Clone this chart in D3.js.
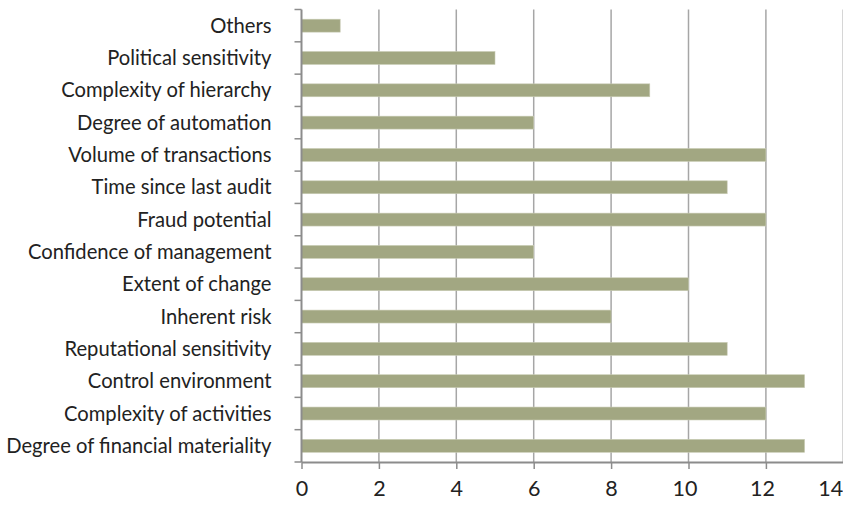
<!DOCTYPE html>
<html>
<head>
<meta charset="utf-8">
<script src="https://cdn.jsdelivr.net/npm/d3@7"></script>
<style>
  body { margin: 0; background: #fff; }
  svg text { font-family: "Lato", "Open Sans", sans-serif; fill: #222; }
</style>
</head>
<body>
<script>
// categories top to bottom
const categories = [
  "Others",
  "Political sensitivity",
  "Complexity of hierarchy",
  "Degree of automation",
  "Volume of transactions",
  "Time since last audit",
  "Fraud potential",
  "Confidence of management",
  "Extent of change",
  "Inherent risk",
  "Reputational sensitivity",
  "Control environment",
  "Complexity of activities",
  "Degree of financial materiality"
];
const counts = [1, 5, 9, 6, 12, 11, 12, 6, 10, 8, 11, 13, 12, 13];
const xTicks = [0, 2, 4, 6, 8, 10, 12, 14];

const width = 843, height = 506;
const margin = { top: 9.5, right: 0, bottom: 44, left: 301.5 };

const svg = d3.select("body").append("svg")
  .attr("width", width)
  .attr("height", height);

const x = d3.scaleLinear()
  .domain([0, 14])
  .range([margin.left, margin.left + 14 * 38.7]);

const y = d3.scaleBand()
  .domain(categories)
  .range([margin.top, height - margin.bottom])
  .paddingInner(0.6)
  .paddingOuter(0.3);

const yStep = (height - margin.bottom - margin.top) / categories.length;

// gridlines
svg.append("g")
  .selectAll("line")
  .data(xTicks.filter(d => d > 0))
  .join("line")
  .attr("x1", d => x(d)).attr("x2", d => x(d))
  .attr("y1", margin.top).attr("y2", height - margin.bottom)
  .attr("stroke", "#a6a6a6")
  .attr("stroke-width", 1.5);

// bars
svg.append("g")
  .selectAll("rect")
  .data(categories)
  .join("rect")
  .attr("x", x(0))
  .attr("y", d => y(d))
  .attr("width", (d, i) => x(counts[i]) - x(0))
  .attr("height", y.bandwidth())
  .attr("fill", "#a2a782")
  .attr("stroke", "#c9ccb5")
  .attr("stroke-width", 0.6);

// x axis
const xAxis = svg.append("g")
  .attr("transform", `translate(0,${height - margin.bottom})`)
  .call(d3.axisBottom(x).tickValues(xTicks).tickSize(7).tickPadding(12).tickSizeOuter(0));
xAxis.select(".domain").attr("stroke", "#8c8c8c").attr("stroke-width", 2);
xAxis.selectAll(".tick line").attr("stroke", "#8c8c8c").attr("stroke-width", 1.5);
xAxis.selectAll("text")
  .attr("font-size", 21.5)
  .attr("fill", "#222")
  // two-digit labels sit a little left, the last one is pulled inside the frame
  .attr("dx", d => d >= 14 ? -13 : d >= 10 ? -4 : 0);

// y axis with ticks at band boundaries
const yAxis = svg.append("g");
yAxis.append("line")
  .attr("x1", x(0)).attr("x2", x(0))
  .attr("y1", margin.top).attr("y2", height - margin.bottom)
  .attr("stroke", "#8c8c8c").attr("stroke-width", 2);
yAxis.selectAll(".bt")
  .data(d3.range(categories.length + 1))
  .join("line")
  .attr("class", "bt")
  .attr("x1", x(0) - 7).attr("x2", x(0))
  .attr("y1", i => margin.top + i * yStep)
  .attr("y2", i => margin.top + i * yStep)
  .attr("stroke", "#8c8c8c").attr("stroke-width", 1.5);
yAxis.selectAll("text")
  .data(categories)
  .join("text")
  .attr("x", x(0) - 30)
  .attr("y", d => y(d) + y.bandwidth() / 2)
  .attr("dy", "0.35em")
  .attr("text-anchor", "end")
  .attr("font-size", 20.2)
  .text(d => d);
</script>
</body>
</html>
